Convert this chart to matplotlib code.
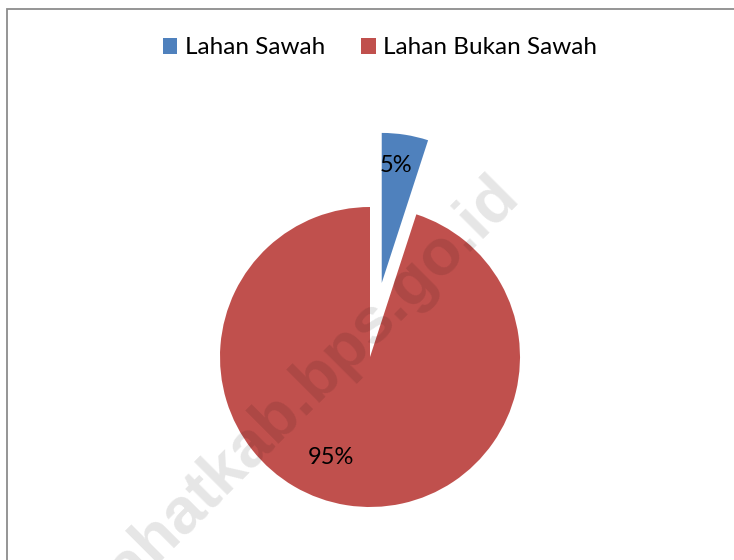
import numpy as np
import matplotlib.pyplot as plt
from matplotlib.patches import Rectangle

plt.rcParams["font.family"] = ["Lato", "DejaVu Sans"]

# data
labels = ["Lahan Sawah", "Lahan Bukan Sawah"]
shares = [5, 95]
colors = ["#4f81bd", "#c0504d"]
explode = [0.5, 0]

W, H = 734, 560
fig = plt.figure(figsize=(W / 100, H / 100), dpi=100)
ax = fig.add_axes([0, 0, 1, 1])

# pie centre at (370, 357) px, radius 150 px
cx, cy, r = 370, 357, 150

wedges, texts, autotexts = ax.pie(
    shares, colors=colors, explode=explode, startangle=90, counterclock=False,
    autopct="%1.0f%%", pctdistance=0.79, radius=1, center=(0, 0),
    wedgeprops=dict(linewidth=0), textprops=dict(fontsize=17, color="black"))
ax.set_xlim(-cx / r, (W - cx) / r)
ax.set_ylim(-(H - cy) / r, cy / r)
ax.axis("off")

# the big slice label sits lower-left in the original
ang = np.deg2rad(-111)
autotexts[1].set_position((0.72 * np.cos(ang), 0.72 * np.sin(ang)))
autotexts[0].set_x(autotexts[0].get_position()[0] - 0.03)

leg = fig.legend(wedges, labels, loc="center", bbox_to_anchor=(380 / W, 1 - 48 / H),
                 ncol=2, frameon=False, fontsize=17.5, handlelength=0.6, handleheight=0.6,
                 handletextpad=0.3, columnspacing=1.5)

# chart frame (only top and left edges visible in the crop)
fig.add_artist(Rectangle((6.5 / W, -0.1), 1.2, 1 - 8.5 / H + 0.1, transform=fig.transFigure,
                         fill=False, edgecolor="#8c8c8c", linewidth=1.3))

# watermark
fig.text(318 / W, 1 - 400 / H, "lahatkab.bps.go.id", fontsize=47, fontweight="bold",
         family="Liberation Sans", color="black", alpha=0.1, rotation=45,
         rotation_mode="anchor", ha="center", va="baseline")

fig.savefig("out.png", dpi=100)
